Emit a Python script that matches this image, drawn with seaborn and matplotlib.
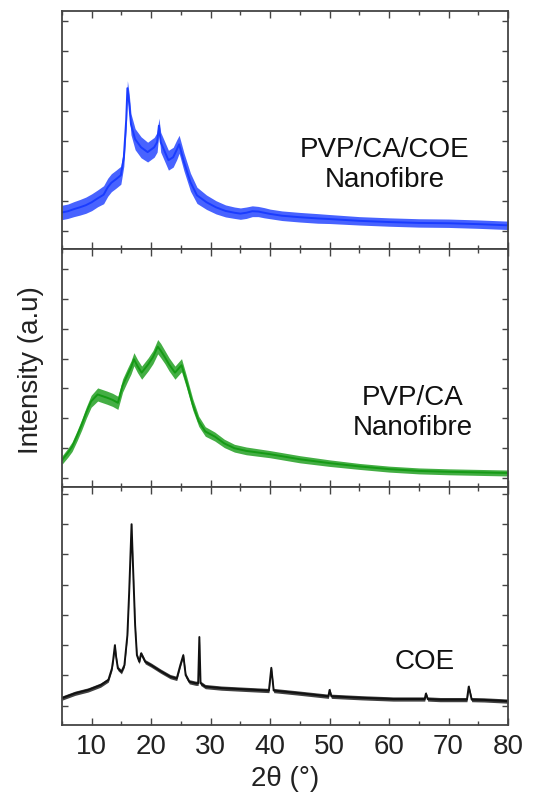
import matplotlib
matplotlib.use("Agg")
import matplotlib.pyplot as plt
import seaborn as sns
import pandas as pd
from matplotlib.ticker import MultipleLocator

# --- data (arbitrary intensity units, 1 unit = 1 tick step) ---
coe_np_x = [5, 6, 7, 8, 9, 10, 11, 12, 12.7, 13.3, 14.1, 14.9, 15.4, 15.8, 16.0, 16.3, 16.6,
            17.3, 18.3, 19.4, 20.5, 21.0, 21.3, 21.6, 22.1, 22.9, 23.7, 24.3, 24.7, 25.5, 26.6,
            27.7, 29.3, 30.9, 32.5, 34, 35, 36, 37, 38, 39, 40, 42, 45, 48, 50, 55, 60, 65, 70,
            75, 80]
coe_np_y = [0.61, 0.65, 0.72, 0.78, 0.85, 0.95, 1.08, 1.2, 1.45, 1.6, 1.72, 1.85, 2.45, 3.7,
            4.75, 4.25, 3.55, 3.05, 2.78, 2.62, 2.78, 2.95, 3.5, 2.95, 2.72, 2.35, 2.45, 2.7,
            2.88, 2.3, 1.62, 1.18, 0.95, 0.78, 0.66, 0.6, 0.57, 0.6, 0.65, 0.64, 0.6, 0.56, 0.5,
            0.45, 0.41, 0.39, 0.33, 0.29, 0.26, 0.25, 0.22, 0.18]
coe_np_noise = [0.24, 0.24, 0.25, 0.26, 0.27, 0.28, 0.28, 0.3, 0.3, 0.3, 0.3, 0.3, 0.3, 0.32,
                0.25, 0.32, 0.35, 0.35, 0.35, 0.33, 0.33, 0.33, 0.25, 0.33, 0.33, 0.33, 0.33,
                0.33, 0.3, 0.3, 0.3, 0.27, 0.24, 0.22, 0.2, 0.19, 0.19, 0.19, 0.18, 0.17, 0.17,
                0.16, 0.16, 0.16, 0.16, 0.15, 0.14, 0.14, 0.14, 0.14, 0.14, 0.14]

ca_np_x = [5, 6, 6.7, 7.5, 8.3, 9.1, 9.9, 11, 12.6, 13.5, 14.4, 15.2, 16.0, 16.6, 17.1, 17.7,
           18.4, 19.5, 20.3, 21.1, 21.6, 22.3, 23, 24, 25.1, 25.9, 27, 28, 29.1, 30.7, 32.3,
           34, 36, 40, 45, 50, 55, 60, 65, 70, 75, 80]
ca_np_y = [0.6, 0.85, 1.05, 1.4, 1.78, 2.2, 2.57, 2.8, 2.69, 2.62, 2.52, 3.1, 3.45, 3.7, 3.98,
           3.75, 3.53, 3.81, 4.05, 4.4, 4.27, 4.05, 3.81, 3.53, 3.78, 3.25, 2.46, 1.9, 1.56,
           1.39, 1.16, 1.0, 0.91, 0.8, 0.63, 0.5, 0.39, 0.3, 0.24, 0.21, 0.19, 0.17]
ca_np_noise = [0.14, 0.15, 0.16, 0.17, 0.18, 0.19, 0.2, 0.22, 0.22, 0.22, 0.22, 0.22, 0.22, 0.22,
               0.22, 0.22, 0.22, 0.22, 0.22, 0.24, 0.24, 0.22, 0.22, 0.22, 0.22, 0.2, 0.19,
               0.17, 0.16, 0.15, 0.14, 0.13, 0.13, 0.12, 0.12, 0.11, 0.1, 0.1, 0.1, 0.1, 0.1,
               0.1]

coe_x = [5, 7.2, 9.4, 11.5, 12.8, 13.4, 13.6, 13.9, 14.1, 14.4, 15.0, 15.5, 16.0, 16.3, 16.7,
         16.9, 17.3, 17.6, 18.0, 18.3, 19.0, 20.0, 21.6, 23.2, 24.3, 24.9, 25.4, 25.8, 26.4,
         27.5, 27.9, 28.1, 28.3, 29.1, 31.8, 36.7, 39.8, 40.2, 40.6, 44.6, 49.8, 50.0, 50.3,
         55.4, 60.7, 66.0, 66.2, 66.5, 68.6, 73.1, 73.4, 73.9, 76, 80]
coe_y = [0.25, 0.41, 0.52, 0.68, 0.85, 1.23, 1.5, 2.0, 1.62, 1.23, 1.12, 1.34, 2.33, 3.76, 6.0,
         4.86, 2.66, 1.67, 1.45, 1.73, 1.45, 1.34, 1.14, 0.96, 0.9, 1.34, 1.67, 1.01, 0.79,
         0.74, 0.74, 2.27, 0.74, 0.63, 0.58, 0.53, 0.5, 1.25, 0.5, 0.42, 0.31, 0.52, 0.31,
         0.26, 0.22, 0.22, 0.4, 0.22, 0.2, 0.2, 0.63, 0.2, 0.19, 0.15]
coe_noise = 0.07

x_ticks = [10, 20, 30, 40, 50, 60, 70, 80]

panels = [
    (coe_np_x, coe_np_y, coe_np_noise, "#1a3cff", "PVP/CA/COE\nNanofibre", 59.3, 2.22, (-0.61, 7.32)),
    (ca_np_x, ca_np_y, ca_np_noise, "#159a15", "PVP/CA\nNanofibre", 64.0, 2.2, (-0.3, 7.67)),
    (coe_x, coe_y, coe_noise, "#111111", "COE", 66.0, 1.47, (-0.64, 7.23)),
]

sns.set_style("ticks")
plt.rcParams["font.family"] = ["Liberation Sans", "DejaVu Sans"]

fig, axes = plt.subplots(3, 1, sharex=True, figsize=(5.5, 8.04), dpi=100)
fig.subplots_adjust(left=0.1127, right=0.9236, top=0.985, bottom=0.097, hspace=0)

for ax, (xs, ys, noise, color, label, lx, ly, ylim) in zip(axes, panels):
    df = pd.DataFrame({"x": xs, "y": ys})
    df["lo"] = df["y"] - noise
    df["hi"] = df["y"] + noise
    ax.fill_between(df["x"], df["lo"], df["hi"], color=color, alpha=0.8, lw=0)
    sns.lineplot(data=df, x="x", y="y", ax=ax, color=color, lw=1.4, sort=False)
    ax.set_xlim(5, 80)
    ax.set_ylim(*ylim)
    ax.yaxis.set_major_locator(MultipleLocator(1))
    ax.xaxis.set_major_locator(MultipleLocator(10))
    ax.xaxis.set_minor_locator(MultipleLocator(5))
    ax.tick_params(which="both", direction="in", top=True, right=True, color="#444444", width=1)
    ax.tick_params(which="major", length=5)
    ax.tick_params(which="minor", length=3)
    ax.tick_params(axis="y", length=4, labelleft=False)
    for s in ax.spines.values():
        s.set_color("#444444")
        s.set_linewidth(1.3)
    ax.set_xlabel("")
    ax.set_ylabel("")
    ax.text(lx, ly, label, ha="center", va="center", fontsize=20, color="#111111", linespacing=1.2)

axes[2].set_xticks(x_ticks)
axes[2].tick_params(axis="x", labelsize=20, pad=6, labelcolor="#222222")
axes[2].set_xlabel("2θ (°)", fontsize=20, color="#222222", labelpad=4)
fig.text(0.057, 0.54, "Intensity (a.u)", rotation=90, ha="center", va="center", fontsize=20,
         color="#222222")

fig.savefig("out.png", dpi=100)
